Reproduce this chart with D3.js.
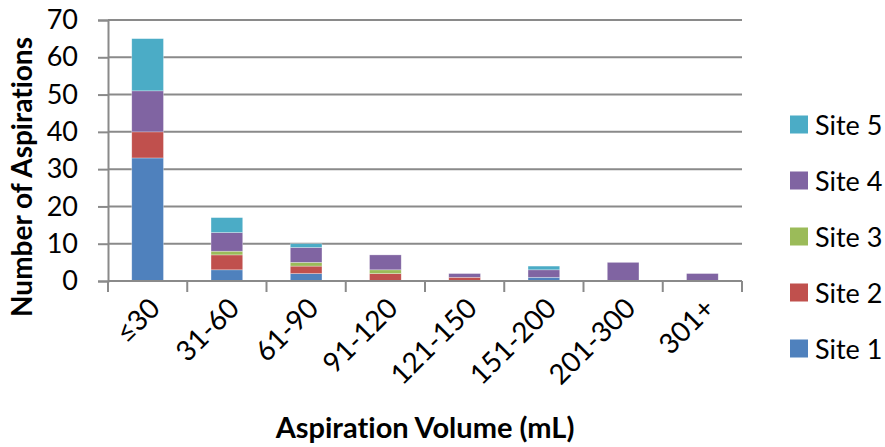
<!DOCTYPE html>
<html><head><meta charset="utf-8">
<script src="https://cdn.jsdelivr.net/npm/d3@7"></script>
<style>body{margin:0;background:#fff}svg{display:block;font-family:Lato,"Open Sans",sans-serif;font-variant-ligatures:none;font-feature-settings:"liga" 0}</style>
</head><body><svg id="c" width="885" height="447"></svg>
<script>
const categories = ["≤30","31-60","61-90","91-120","121-150","151-200","201-300","301+"];
const seriesNames = ["Site 1","Site 2","Site 3","Site 4","Site 5"];
const site1 = [33,3,2,0,0,1,0,0];
const site2 = [7,4,2,2,1,0,0,0];
const site3 = [0,1,1,1,0,0,0,0];
const site4 = [11,5,4,4,1,2,5,2];
const site5 = [14,4,1,0,0,1,0,0];
const colors = ["#4F81BD","#C0504D","#9BBB59","#8064A2","#4BACC6"];
const yTicks = [0,10,20,30,40,50,60,70];

const svg = d3.select("#c");
const x = d3.scaleBand().domain(categories).range([108,742]).paddingInner(0.6).paddingOuter(0.3);
const y = d3.scaleLinear().domain([0,70]).range([281,20]);
const grid = "#8a8a8a";

const rows = categories.map((c,i)=>{const o={cat:c};[site1,site2,site3,site4,site5].forEach((s,j)=>o[seriesNames[j]]=s[i]);return o;});
const stack = d3.stack().keys(seriesNames)(rows);

// gridlines
svg.append("g").selectAll("line").data(yTicks.filter(t=>t>0)).join("line")
  .attr("x1",108).attr("x2",742).attr("y1",d=>y(d)).attr("y2",d=>y(d))
  .attr("stroke",grid).attr("stroke-width",2);

// y axis
const ya = svg.append("g").attr("transform","translate(108,0)")
  .call(d3.axisLeft(y).tickValues(yTicks).tickSize(10).tickPadding(20));
ya.select(".domain").attr("stroke",grid).attr("stroke-width",2);
ya.selectAll(".tick line").attr("stroke",grid).attr("stroke-width",2);
ya.selectAll("text").attr("font-size",27).attr("fill","#000").attr("font-family","Lato");

// bars
svg.append("g").selectAll("g").data(stack).join("g").attr("fill",(d,i)=>colors[i])
  .selectAll("rect").data(d=>d).join("rect")
  .attr("x",d=>x(d.data.cat)).attr("width",x.bandwidth())
  .attr("y",d=>y(d[1])).attr("height",d=>y(d[0])-y(d[1]))
  .attr("stroke","rgba(255,255,255,0.5)").attr("stroke-width",0.6);

// x axis
svg.append("line").attr("x1",108).attr("x2",742).attr("y1",y(0)).attr("y2",y(0))
  .attr("stroke",grid).attr("stroke-width",2);
const bounds = d3.range(categories.length+1).map(i=>x.range()[0]+i*x.step());
svg.append("g").selectAll("line").data(bounds).join("line")
  .attr("x1",d=>d).attr("x2",d=>d).attr("y1",y(0)).attr("y2",y(0)+11)
  .attr("stroke",grid).attr("stroke-width",2);
svg.append("g").selectAll("text").data(categories).join("text")
  .attr("transform",d=>`translate(${x(d)+x.bandwidth()/2+14},${310}) rotate(-45)`)
  .attr("text-anchor","end").attr("font-size",28).attr("fill","#000").text(d=>d);

// titles
svg.append("text").attr("x",425).attr("y",438).attr("text-anchor","middle")
  .attr("font-size",29).attr("font-weight","bold").text("Aspiration Volume (mL)");
svg.append("text").attr("transform","translate(32,177) rotate(-90)").attr("text-anchor","middle")
  .attr("font-size",28).attr("font-weight","bold").text("Number of Aspirations");

// legend
const lg = svg.append("g").selectAll("g").data(seriesNames.slice().reverse()).join("g")
  .attr("transform",(d,i)=>`translate(790,${124.5+i*56})`);
lg.append("rect").attr("x",0).attr("y",-9).attr("width",18).attr("height",18)
  .attr("fill",d=>colors[seriesNames.indexOf(d)]);
lg.append("text").attr("x",25).attr("y",10).attr("font-size",27).attr("fill","#000").text(d=>d);
</script></body></html>
